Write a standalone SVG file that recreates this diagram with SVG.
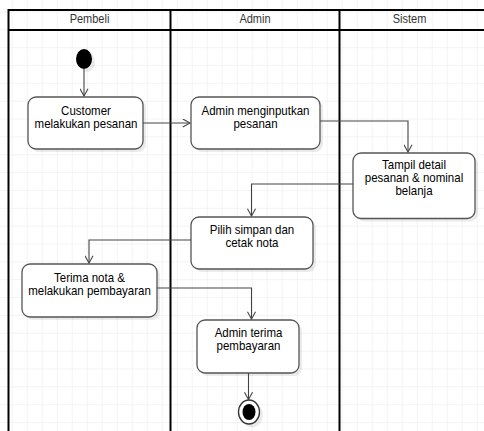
<svg xmlns="http://www.w3.org/2000/svg" width="484" height="431" viewBox="0 0 484 431">
  <defs>
    <pattern id="grid" x="11.7" y="11.45" width="15" height="17.85" patternUnits="userSpaceOnUse">
      <path d="M0,0 H15 M0,0 V17.85" fill="none" stroke="#e9e9e9" stroke-width="1"/>
    </pattern>
    <marker id="arr" viewBox="0 0 10 10" refX="9" refY="5" markerWidth="9" markerHeight="9" markerUnits="userSpaceOnUse" orient="auto">
      <path d="M1,0.5 L9,5 L1,9.5" fill="none" stroke="#444" stroke-width="1.2"/>
    </marker>
  </defs>
  <style>
    .lane { fill: none; stroke: #000; stroke-width: 2; }
    .hdr { font-family: "Liberation Sans", Arial, sans-serif; font-size: 11px; fill: #333; text-anchor: middle; }
    .box { fill: #fff; stroke: #555; stroke-width: 1.3; }
    .shadow { fill: #000; opacity: 0.08; }
    .lbl { font-family: "Liberation Sans", Arial, sans-serif; font-size: 11.5px; fill: #000; text-anchor: middle; }
    .edge { fill: none; stroke: #444; stroke-width: 1.1; marker-end: url(#arr); }
  </style>
  <rect x="0" y="0" width="484" height="431" fill="#fff"/>
  <rect x="0" y="0" width="484" height="431" fill="url(#grid)"/>

  <g id="pool">
    <rect x="8.5" y="10" width="480" height="430" class="lane"/>
    <line x1="8.5" y1="30" x2="484" y2="30" class="lane"/>
    <line x1="170.5" y1="10" x2="170.5" y2="431" class="lane"/>
    <line x1="339.5" y1="10" x2="339.5" y2="431" class="lane"/>
    <text transform="translate(89.5,23) scale(1,1.1)" class="hdr">Pembeli</text>
    <text transform="translate(255,23) scale(1,1.1)" class="hdr">Admin</text>
    <text transform="translate(409.5,23) scale(1,1.1)" class="hdr">Sistem</text>
  </g>

  <g id="start">
    <ellipse cx="87" cy="62" rx="8" ry="10" class="shadow"/>
    <ellipse cx="84" cy="59" rx="8" ry="10" fill="#000"/>
  </g>

  <g id="n1">
    <rect x="31" y="100" width="115" height="52" rx="8" class="shadow"/>
    <rect x="28" y="97" width="115" height="52" rx="8" class="box"/>
    <text transform="translate(86,114.5) scale(1,1.06)" class="lbl">Customer</text>
    <text transform="translate(86,127.5) scale(1,1.06)" class="lbl">melakukan pesanan</text>
  </g>

  <g id="n2">
    <rect x="194" y="100" width="129" height="52" rx="8" class="shadow"/>
    <rect x="191" y="97" width="129" height="52" rx="8" class="box"/>
    <text transform="translate(255.5,114.5) scale(1,1.06)" class="lbl">Admin menginputkan</text>
    <text transform="translate(255.5,127.5) scale(1,1.06)" class="lbl">pesanan</text>
  </g>

  <g id="n3">
    <rect x="356" y="156" width="122" height="65.5" rx="8" class="shadow"/>
    <rect x="353" y="153" width="122" height="65.5" rx="8" class="box"/>
    <text transform="translate(414,169) scale(1,1.06)" class="lbl">Tampil detail</text>
    <text transform="translate(414,182) scale(1,1.06)" class="lbl">pesanan &amp; nominal</text>
    <text transform="translate(414,195) scale(1,1.06)" class="lbl">belanja</text>
  </g>

  <g id="n4">
    <rect x="194" y="220" width="122" height="52" rx="8" class="shadow"/>
    <rect x="191" y="217" width="122" height="52" rx="8" class="box"/>
    <text transform="translate(252,233.5) scale(1,1.06)" class="lbl">Pilih simpan dan</text>
    <text transform="translate(252,246.5) scale(1,1.06)" class="lbl">cetak nota</text>
  </g>

  <g id="n5">
    <rect x="25" y="267" width="135" height="53" rx="8" class="shadow"/>
    <rect x="22" y="264" width="135" height="53" rx="8" class="box"/>
    <text transform="translate(89.5,281.5) scale(1,1.06)" class="lbl">Terima nota &amp;</text>
    <text transform="translate(89.5,294.5) scale(1,1.06)" class="lbl">melakukan pembayaran</text>
  </g>

  <g id="n6">
    <rect x="200" y="323" width="102" height="53" rx="8" class="shadow"/>
    <rect x="197" y="320" width="102" height="53" rx="8" class="box"/>
    <text transform="translate(248.5,337) scale(1,1.06)" class="lbl">Admin terima</text>
    <text transform="translate(248.5,350) scale(1,1.06)" class="lbl">pembayaran</text>
  </g>

  <g id="end">
    <ellipse cx="252" cy="415" rx="11" ry="12.5" class="shadow"/>
    <ellipse cx="249" cy="412" rx="10.5" ry="12" fill="#fff" stroke="#333" stroke-width="1.3"/>
    <ellipse cx="249" cy="412" rx="6.5" ry="8" fill="#000"/>
  </g>

  <g id="connectors">
    <path d="M84,69 V96" class="edge"/>
    <path d="M143,123 H190" class="edge"/>
    <path d="M320,121 H408 V152" class="edge"/>
    <path d="M353,184 H251.5 V216" class="edge"/>
    <path d="M191,240 H89 V263" class="edge"/>
    <path d="M157,288 H251.5 V319" class="edge"/>
    <path d="M248.5,373 V399.5" class="edge"/>
  </g>
</svg>
